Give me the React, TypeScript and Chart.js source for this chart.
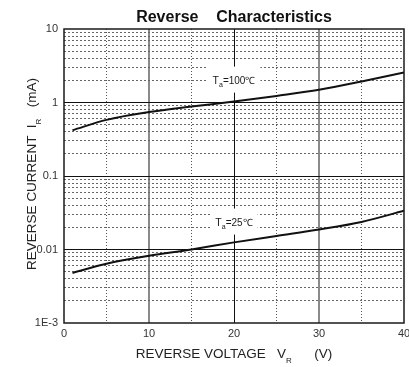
import React, { useEffect, useRef } from 'react';
import { Chart, registerables } from 'chart.js';

Chart.register(...registerables);

// ---- data ----
const voltage = [1, 5, 10, 15, 20, 25, 30, 35, 40];
const current100 = [0.42, 0.58, 0.74, 0.88, 1.03, 1.23, 1.49, 1.93, 2.56];
const current25 = [0.0048, 0.0064, 0.0082, 0.0100, 0.0125, 0.0153, 0.0187, 0.0237, 0.0336];
const seriesTemps = ['100℃', '25℃'];
const labelVoltage = [20, 20];
const labelCurrent = [2.05, 0.024];
const xTickLabels = [0, 10, 20, 30, 40];
const yDecades = [0.001, 0.01, 0.1, 1, 10];
const yTickLabels = ['1E-3', '0.01', '0.1', '1', '10'];

const FONT = '"Liberation Sans", Arial, Helvetica, sans-serif';

type Part = { text: string; size: number; dy: number; bold?: boolean };

function measureParts(ctx: CanvasRenderingContext2D, parts: Part[]) {
  let w = 0;
  for (const p of parts) {
    ctx.font = `${p.bold ? 'bold ' : ''}${p.size}px ${FONT}`;
    w += ctx.measureText(p.text).width;
  }
  return w;
}

function drawParts(ctx: CanvasRenderingContext2D, parts: Part[], x: number, y: number) {
  let cx = x;
  for (const p of parts) {
    ctx.font = `${p.bold ? 'bold ' : ''}${p.size}px ${FONT}`;
    ctx.fillText(p.text, cx, y + p.dy);
    cx += ctx.measureText(p.text).width;
  }
}

const isDecade = (v: number) => Math.abs(Math.log10(v) - Math.round(Math.log10(v))) < 1e-6;

const textPlugin = {
  id: 'customTexts',
  beforeDatasetsDraw(chart: any) {
    const { ctx, scales } = chart;
    const x = scales.x;
    const y = scales.y;
    ctx.save();
    ctx.textAlign = 'left';
    ctx.textBaseline = 'alphabetic';
    seriesTemps.forEach((t, i) => {
      const cx = x.getPixelForValue(labelVoltage[i]);
      const cy = y.getPixelForValue(labelCurrent[i]);
      const parts: Part[] = [
        { text: 'T', size: 10.5, dy: 0 },
        { text: 'a', size: 7, dy: 3 },
        { text: '=' + t, size: 10, dy: 0 },
      ];
      const w = measureParts(ctx, parts);
      const left = cx - w / 2;
      ctx.fillStyle = '#ffffff';
      ctx.fillRect(left - 5, cy - 13, w + 10, 26);
      ctx.fillStyle = '#1a1a1a';
      drawParts(ctx, parts, left, cy + 4);
    });
    ctx.restore();
  },
  afterDraw(chart: any) {
    const { ctx, chartArea } = chart;
    const { left, top, right, bottom } = chartArea;
    ctx.save();
    // frame
    ctx.strokeStyle = '#1a1a1a';
    ctx.lineWidth = 1.5;
    ctx.strokeRect(left, top, right - left, bottom - top);

    ctx.fillStyle = '#111';
    ctx.textAlign = 'left';
    ctx.textBaseline = 'alphabetic';
    const midX = (left + right) / 2;

    // title
    const titleParts: Part[] = [{ text: 'Reverse    Characteristics', size: 16, dy: 0, bold: true }];
    const tw = measureParts(ctx, titleParts);
    drawParts(ctx, titleParts, midX - tw / 2, 22);

    // x title
    ctx.fillStyle = '#222';
    const xParts: Part[] = [
      { text: 'REVERSE VOLTAGE   V', size: 13.5, dy: 0 },
      { text: 'R', size: 8, dy: 5 },
      { text: '      (V)', size: 13.5, dy: 0 },
    ];
    const xw = measureParts(ctx, xParts);
    drawParts(ctx, xParts, midX - xw / 2, 358);

    // y title (rotated)
    const yParts: Part[] = [
      { text: 'REVERSE CURRENT  I', size: 13.5, dy: 0 },
      { text: 'R', size: 8, dy: 5 },
      { text: '   (mA)', size: 13.5, dy: 0 },
    ];
    const yw = measureParts(ctx, yParts);
    ctx.translate(36, 174);
    ctx.rotate(-Math.PI / 2);
    drawParts(ctx, yParts, -yw / 2, 0);
    ctx.restore();
  },
};

export default function App() {
  const ref = useRef<HTMLCanvasElement | null>(null);

  useEffect(() => {
    document.body.style.margin = '0';
    const canvas = ref.current;
    if (!canvas) return;

    const chart = new Chart(canvas, {
      type: 'line',
      data: {
        datasets: [
          {
            label: 'Ta=100℃',
            data: voltage.map((v, i) => ({ x: v, y: current100[i] })),
            borderColor: '#111',
            borderWidth: 2,
            pointRadius: 0,
            cubicInterpolationMode: 'monotone',
            fill: false,
          },
          {
            label: 'Ta=25℃',
            data: voltage.map((v, i) => ({ x: v, y: current25[i] })),
            borderColor: '#111',
            borderWidth: 2,
            pointRadius: 0,
            cubicInterpolationMode: 'monotone',
            fill: false,
          },
        ],
      },
      options: {
        animation: false,
        responsive: false,
        devicePixelRatio: 1,
        layout: { padding: { top: 29, right: 5, left: 0, bottom: 0 } },
        plugins: {
          legend: { display: false },
          tooltip: { enabled: false },
          title: { display: false },
        },
        scales: {
          x: {
            type: 'linear',
            min: 0,
            max: 40,
            afterFit: (s: any) => {
              s.height = 44;
              s.paddingLeft = 0;
              s.paddingRight = 0;
            },
            ticks: {
              stepSize: 5,
              autoSkip: false,
              maxRotation: 0,
              padding: 4,
              color: '#333',
              font: { family: FONT, size: 11 },
              callback: (v: any) => (xTickLabels.includes(Number(v)) ? String(v) : ''),
            },
            grid: {
              drawTicks: false,
              color: (c: any) => {
                const v = c.tick?.value;
                if (v === undefined || v === 0 || v === 40) return 'rgba(0,0,0,0)';
                if (v % 10 === 0) return v === 20 ? '#111' : '#8a8a8a';
                return '#555';
              },
              lineWidth: (c: any) => {
                const v = c.tick?.value;
                if (v !== undefined && v % 10 === 0 && v !== 20) return 2;
                return 1;
              },
            },
            border: {
              display: false,
              dash: (c: any) => {
                const v = c.tick?.value;
                return v !== undefined && v % 10 !== 0 ? [1, 2] : [];
              },
            },
          },
          y: {
            type: 'logarithmic',
            min: yDecades[0],
            max: yDecades[yDecades.length - 1],
            afterFit: (s: any) => {
              s.width = 64;
              s.paddingTop = 0;
              s.paddingBottom = 0;
            },
            afterBuildTicks: (s: any) => {
              const ticks: { value: number }[] = [];
              for (let d = 0; d < yDecades.length - 1; d++) {
                for (let k = 1; k <= 9; k++) ticks.push({ value: yDecades[d] * k });
              }
              ticks.push({ value: yDecades[yDecades.length - 1] });
              s.ticks = ticks;
            },
            ticks: {
              autoSkip: false,
              padding: 6,
              color: '#333',
              font: { family: FONT, size: 11 },
              callback: (v: any) => {
                const n = Number(v);
                const idx = yDecades.findIndex((d) => Math.abs(d - n) / d < 1e-6);
                return idx >= 0 ? yTickLabels[idx] : '';
              },
            },
            grid: {
              drawTicks: false,
              color: (c: any) => {
                const v = c.tick?.value;
                if (v === undefined) return 'rgba(0,0,0,0)';
                if (Math.abs(v - yDecades[0]) / v < 1e-6 || Math.abs(v - yDecades[yDecades.length - 1]) / v < 1e-6)
                  return 'rgba(0,0,0,0)';
                return isDecade(v) ? '#111' : '#666';
              },
              lineWidth: 1,
            },
            border: {
              display: false,
              dash: (c: any) => {
                const v = c.tick?.value;
                return v !== undefined && !isDecade(v) ? [2, 2] : [];
              },
            },
          },
        },
      },
      plugins: [textPlugin],
    } as any);

    return () => chart.destroy();
  }, []);

  return <canvas ref={ref} width={409} height={367} style={{ display: 'block', width: 409, height: 367 }} />;
}
